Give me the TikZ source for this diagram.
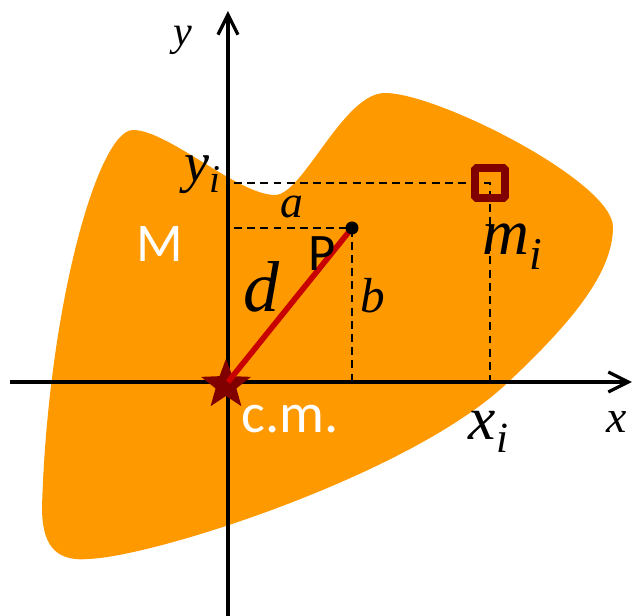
\documentclass[tikz,border=0pt]{standalone}
\usepackage{fontspec}
\setmainfont{Liberation Serif}
\newfontfamily\labsans{Carlito}
\usetikzlibrary{arrows.meta,shapes.geometric}
\definecolor{bodyorange}{RGB}{255,153,0}
\definecolor{darkred}{RGB}{128,0,0}
\definecolor{linered}{RGB}{200,0,0}
\begin{document}
\begin{tikzpicture}[
  axis/.style={line width=1.9pt,-{Straight Barb[length=4mm,width=4mm,line width=1.9pt]}},
  guide/.style={line width=1.3pt,dash pattern=on 4.5pt off 3pt},
  lab/.style={inner sep=0pt,font=\fontsize{#1}{#1}\selectfont\itshape},
  sans/.style={inner sep=0pt,font=\fontsize{#1}{#1}\selectfont\labsans}]
\useasboundingbox (-4.56,-4.68) rectangle (8.1,7.64);
% the body
\fill[bodyorange] (-1.9,5.04)
 .. controls (-1.2,5.04) and (0.2,3.74) .. (0.94,3.74)
 .. controls (1.5,3.74) and (2.3,5.78) .. (3.14,5.78)
 .. controls (4.2,5.78) and (7.7,4.0) .. (7.7,3.1)
 .. controls (7.7,2.2) and (6.9,1.2) .. (5.5,-0.1)
 .. controls (3.5,-1.9) and (-1.5,-3.5) .. (-2.8,-3.54)
 .. controls (-3.5,-3.6) and (-3.72,-3.2) .. (-3.72,-2.5)
 .. controls (-3.6,1.5) and (-2.6,5.04) .. cycle;
% points
\coordinate (P) at (2.48,3.08);
\coordinate (mi) at (5.24,3.98);
\coordinate (ax) at (0.12,0.04);
\draw[guide] (ax |- mi) -- (mi) -- (mi |- ax);
\draw[guide] (ax |- P) -- (P) -- (P |- ax);
% axes
\coordinate (xl) at (-4.36,0);
\coordinate (xr) at (8.08,0);
\coordinate (yb) at (0,-4.68);
\coordinate (yt) at (0,7.42);
\draw[axis] (xl) -- (xr);
\draw[axis] (yb) -- (yt);
\node[star,star points=5,star point ratio=2.4,minimum size=1.05cm,
  inner sep=0pt,fill=darkred] (cm) at (-0.04,-0.06) {};
\draw[linered,line width=3.2pt] (0,0) -- (P);
\fill (P) circle (0.13);
\node[draw=darkred,line width=4.5pt,rounded corners=1pt,minimum size=0.6cm,
  inner sep=0pt] (mass) at (mi) {};
% labels
\node[lab=24pt] (ylab) at (-0.9,6.84) {y};
\node[lab=26pt] (xlab) at (7.78,-0.8) {x};
\node[lab=32pt] (yi) at (-0.5,4.14) {y\textsubscript{i}};
\node[lab=35pt] (xi) at (5.22,-1.0) {x\textsubscript{i}};
\node[lab=37pt] (mlab) at (5.7,2.7) {m\textsubscript{i}};
\node[lab=26pt] (alab) at (1.28,3.5) {a};
\node[lab=28pt] (blab) at (2.9,1.72) {b};
\node[lab=41pt] (dlab) at (0.68,1.9) {d};
\node[sans=31pt,white] (M) at (-1.36,2.76) {M};
\node[sans=30pt] (Plab) at (1.88,2.56) {P};
\node[sans=32pt,white] (cmlab) at (1.24,-0.74) {c.m.};
\end{tikzpicture}
\end{document}
